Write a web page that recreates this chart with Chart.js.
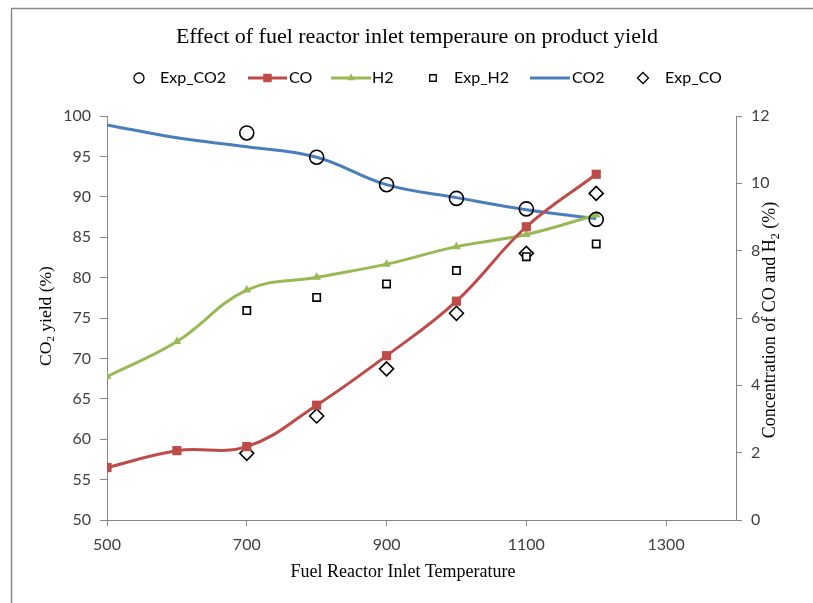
<!DOCTYPE html>
<html>
<head>
<meta charset="utf-8">
<script src="https://cdn.jsdelivr.net/npm/chart.js@4.4.1/dist/chart.umd.min.js"></script>
<style>
html,body{margin:0;padding:0;background:#fff;}
#wrap{position:relative;width:813px;height:603px;}
</style>
</head>
<body>
<div id="wrap"><canvas id="c" width="813" height="603"></canvas></div>
<script>
// ---- data ----
const temps = [500, 600, 700, 800, 900, 1000, 1100, 1200];
const co2Model = [98.9, 97.3, 96.2, 94.9, 91.5, 89.9, 88.4, 87.3];
const coModel = [1.56, 2.06, 2.18, 3.41, 4.88, 6.50, 8.71, 10.27];
const h2Model = [4.26, 5.30, 6.83, 7.21, 7.60, 8.12, 8.48, 9.06];
const expTemps = [700, 800, 900, 1000, 1100, 1200];
const expCO2 = [97.9, 94.9, 91.5, 89.8, 88.5, 87.2];
const expH2 = [6.22, 6.61, 7.01, 7.41, 7.82, 8.20];
const expCO = [1.98, 3.09, 4.49, 6.14, 7.92, 9.70];
const xTickValues = [500, 700, 900, 1100, 1300];
const seriesNames = ['Exp_CO2', 'CO', 'H2', 'Exp_H2', 'CO2', 'Exp_CO'];
const titleText = 'Effect of fuel reactor inlet temperaure on product yield';
const xTitle = 'Fuel Reactor Inlet Temperature';

const pts = (xs, ys) => xs.map((x, i) => ({x: x, y: ys[i]}));

const BLUE = '#4A7EBB', RED = '#BE4B48', GREEN = '#98B954', AXIS = '#868686', TXT = '#404040';
const tickFont = {family: 'Lato', size: 16};
const SERIF = '"Liberation Serif"';

const datasets = [
  {label: seriesNames[0], data: pts(expTemps, expCO2), yAxisID: 'y', showLine: false,
   pointStyle: 'circle', pointRadius: 7, pointBorderWidth: 1.6, pointBorderColor: '#000', pointBackgroundColor: 'rgba(0,0,0,0)',
   legendRadius: 5},
  {label: seriesNames[1], data: pts(temps, coModel), yAxisID: 'y1', borderColor: RED, borderWidth: 3, tension: 0.4,
   pointStyle: 'rect', pointRadius: 6.5, pointBorderWidth: 0, pointBackgroundColor: RED, pointBorderColor: RED,
   legendRadius: 6},
  {label: seriesNames[2], data: pts(temps, h2Model), yAxisID: 'y1', borderColor: GREEN, borderWidth: 3, tension: 0.4,
   pointStyle: 'triangle', pointRadius: 5, pointBorderWidth: 0, pointBackgroundColor: GREEN, pointBorderColor: GREEN,
   legendRadius: 4.5},
  {label: seriesNames[3], data: pts(expTemps, expH2), yAxisID: 'y1', showLine: false,
   pointStyle: 'rect', pointRadius: 5.2, pointBorderWidth: 1.6, pointBorderColor: '#000', pointBackgroundColor: '#fff',
   legendRadius: 4.6},
  {label: seriesNames[4], data: pts(temps, co2Model), yAxisID: 'y', borderColor: BLUE, borderWidth: 3, tension: 0.4,
   pointRadius: 0, pointBackgroundColor: BLUE, pointBorderColor: BLUE, legendRadius: 0},
  {label: seriesNames[5], data: pts(expTemps, expCO), yAxisID: 'y1', showLine: false,
   pointStyle: 'rectRot', pointRadius: 7, pointBorderWidth: 1.6, pointBorderColor: '#000', pointBackgroundColor: 'rgba(0,0,0,0)',
   legendRadius: 5.5}
];

const legendLayout = [
  {type: 'marker', mx: 139, tx: 160},
  {type: 'line', lx1: 248, lx2: 287, tx: 289},
  {type: 'line', lx1: 331, lx2: 371, tx: 372},
  {type: 'marker', mx: 433, tx: 454},
  {type: 'line', lx1: 530, lx2: 570, tx: 572},
  {type: 'marker', mx: 643, tx: 665}
];

const framePlugin = {
  id: 'frame',
  beforeDraw(chart) {
    const ctx = chart.ctx;
    ctx.save();
    ctx.fillStyle = '#fff';
    ctx.fillRect(0, 0, chart.width, chart.height);
    ctx.strokeStyle = '#8a8a8a';
    ctx.lineWidth = 1.5;
    ctx.beginPath();
    ctx.moveTo(11.5, chart.height);
    ctx.lineTo(11.5, 8.5);
    ctx.lineTo(chart.width + 5, 8.5);
    ctx.stroke();
    ctx.restore();
  }
};

function drawSubText(ctx, parts, cx, cy, size, family) {
  const normal = size + 'px ' + family;
  const small = Math.round(size * 0.65) + 'px ' + family;
  let total = 0;
  parts.forEach(p => { ctx.font = p[1] ? small : normal; total += ctx.measureText(p[0]).width; });
  let x = cx - total / 2;
  ctx.textAlign = 'left';
  ctx.textBaseline = 'middle';
  parts.forEach(p => {
    ctx.font = p[1] ? small : normal;
    ctx.fillText(p[0], x, cy + (p[1] ? size * 0.3 : 0));
    x += ctx.measureText(p[0]).width;
  });
}

const textPlugin = {
  id: 'texts',
  afterDraw(chart) {
    const ctx = chart.ctx;
    ctx.save();
    ctx.fillStyle = '#000';
    ctx.font = '22px ' + SERIF;
    ctx.textAlign = 'center';
    ctx.textBaseline = 'middle';
    ctx.fillText(titleText, 417, 37);

    const ly = 78;
    legendLayout.forEach((it, i) => {
      const ds = chart.data.datasets[i];
      if (it.type === 'line') {
        ctx.strokeStyle = ds.borderColor;
        ctx.lineWidth = 3;
        ctx.beginPath();
        ctx.moveTo(it.lx1, ly);
        ctx.lineTo(it.lx2, ly);
        ctx.stroke();
        if (ds.legendRadius > 0) {
          ctx.fillStyle = ds.pointBackgroundColor;
          ctx.strokeStyle = ds.pointBorderColor;
          Chart.helpers.drawPoint(ctx, {pointStyle: ds.pointStyle, radius: ds.legendRadius, borderWidth: 0, rotation: 0}, (it.lx1 + it.lx2) / 2, ly);
        }
      } else {
        ctx.fillStyle = ds.pointBackgroundColor;
        ctx.strokeStyle = ds.pointBorderColor;
        ctx.lineWidth = 1.3;
        Chart.helpers.drawPoint(ctx, {pointStyle: ds.pointStyle, radius: ds.legendRadius, borderWidth: 1.3, rotation: 0}, it.mx, ly);
      }
      ctx.fillStyle = '#000';
      ctx.font = '16px Lato';
      ctx.textAlign = 'left';
      ctx.textBaseline = 'middle';
      ctx.fillText(ds.label, it.tx, ly);
    });

    ctx.fillStyle = '#000';
    ctx.font = '18px ' + SERIF;
    ctx.textAlign = 'center';
    ctx.textBaseline = 'middle';
    ctx.fillText(xTitle, 403, 572);

    ctx.save();
    ctx.translate(46, 316);
    ctx.rotate(-Math.PI / 2);
    drawSubText(ctx, [['CO', false], ['2', true], [' yield (%)', false]], 0, 0, 17.5, SERIF);
    ctx.restore();

    ctx.save();
    ctx.translate(770, 320);
    ctx.rotate(-Math.PI / 2);
    drawSubText(ctx, [['Concentration of CO and H', false], ['2', true], [' (%)', false]], 0, 0, 18, SERIF);
    ctx.restore();

    ctx.restore();
  }
};

new Chart(document.getElementById('c'), {
  type: 'line',
  data: {datasets: datasets},
  options: {
    responsive: false,
    animation: false,
    layout: {padding: {left: 0, right: 0, top: 116, bottom: 0}},
    plugins: {legend: {display: false}, title: {display: false}, tooltip: {enabled: false}},
    scales: {
      x: {
        type: 'linear', min: 500, max: 1400,
        afterBuildTicks(s) { s.ticks = xTickValues.map(v => ({value: v})); },
        ticks: {font: tickFont, color: TXT, padding: 9, callback: v => String(v)},
        grid: {drawOnChartArea: false, drawTicks: true, tickLength: 6, color: AXIS, lineWidth: 1},
        border: {color: AXIS, width: 1},
        afterFit(s) { s.height = 83; }
      },
      y: {
        position: 'left', min: 50, max: 100,
        ticks: {stepSize: 5, font: tickFont, color: TXT, padding: 9},
        grid: {drawOnChartArea: false, drawTicks: true, tickLength: 7, color: AXIS, lineWidth: 1},
        border: {color: AXIS, width: 1},
        afterFit(s) { s.width = 107; }
      },
      y1: {
        position: 'right', min: 0, max: 12,
        ticks: {stepSize: 2, font: tickFont, color: TXT, padding: 9},
        grid: {drawOnChartArea: false, drawTicks: true, tickLength: 6, color: AXIS, lineWidth: 1},
        border: {color: AXIS, width: 1},
        afterFit(s) { s.width = 77; }
      }
    }
  },
  plugins: [framePlugin, textPlugin]
});
</script>
</body>
</html>
